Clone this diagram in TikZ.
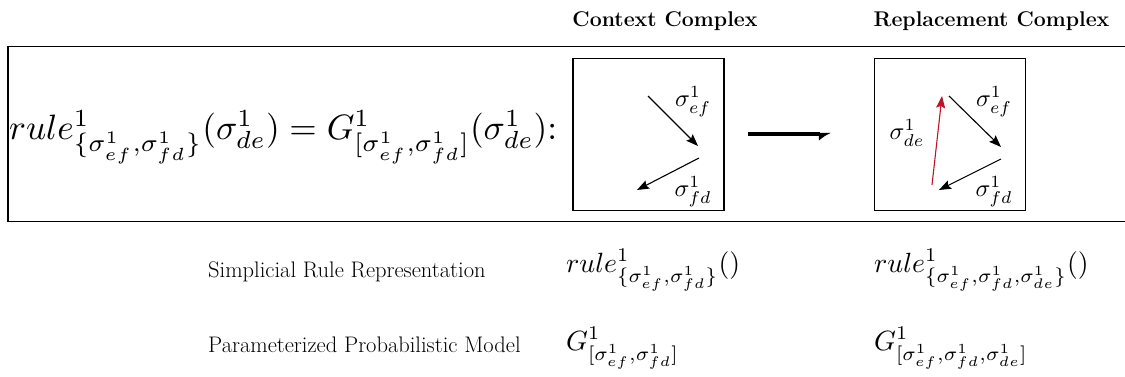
\documentclass[tikz,border=0pt]{standalone}
\usepackage{fontspec}
\usepackage{graphicx}
\usepackage{amsmath}
\usetikzlibrary{arrows.meta}
\definecolor{redarrow}{RGB}{190,20,40}
\newcommand{\mth}[2]{\scalebox{#1}{$#2$}}
\begin{document}
\begin{tikzpicture}[x=1pt,y=-1pt,
  heading/.style={font=\fontsize{21.3}{25}\selectfont\bfseries, anchor=base, inner sep=0},
  caption/.style={font=\fontsize{22.5}{26}\selectfont, anchor=base west, inner sep=0},
  formula/.style={anchor=base west, inner sep=0},
  complexbox/.style={draw, line width=1.1pt, minimum width=151pt, minimum height=152pt, inner sep=0},
  simplex/.style={-{Stealth[length=12pt,width=9pt,inset=2pt]}, line width=1.1pt},
  lbl/.style={inner sep=0}
]
\useasboundingbox (0,0) rectangle (1125,377);
\begin{scope}
\clip (0,0) rectangle (1125,377);
\draw[line width=1.2pt] (1140,46.5) -- (8,46.5) -- (8,221.5) -- (1140,221.5);
\end{scope}

\node[heading] (hctx) at (665,27) {Context Complex};
\node[heading] (hrep) at (991.5,27) {Replacement Complex};

\node[anchor=west, inner sep=0] (rule) at (9,137)
  {\resizebox{548pt}{!}{$rule^1_{\{\sigma^1_{ef},\sigma^1_{fd}\}}(\sigma^1_{de}) = G^1_{[\sigma^1_{ef},\sigma^1_{fd}]}(\sigma^1_{de})\mathpunct{:}$}};

\node[complexbox] (ctx) at (648.5,134.5) {};
\node[complexbox] (rep) at (950,134.5) {};

\coordinate (c1) at (648,96);
\coordinate (c2) at (698,146);
\coordinate (c3) at (699,158);
\coordinate (c4) at (637,190);
\draw[simplex] (c1) -- (c2);
\draw[simplex] (c3) -- (c4);
\node[lbl] (cef) at (693,102) {\mth{2.45}{\sigma^1_{ef}}};
\node[lbl] (cfd) at (693,192) {\mth{2.45}{\sigma^1_{fd}}};

\coordinate (r1) at (949,96);
\coordinate (r2) at (1001,147);
\coordinate (r3) at (1001,159);
\coordinate (r4) at (939,190);
\coordinate (r5) at (932,185);
\coordinate (r6) at (942,96);
\draw[simplex] (r1) -- (r2);
\draw[simplex] (r3) -- (r4);
\draw[simplex, redarrow] (r5) -- (r6);
\node[lbl] (ref) at (994,102) {\mth{2.45}{\sigma^1_{ef}}};
\node[lbl] (rfd) at (994,192) {\mth{2.45}{\sigma^1_{fd}}};
\node[lbl] (rde) at (907,133) {\mth{2.45}{\sigma^1_{de}}};

\coordinate (a1) at (748,134);
\coordinate (a2) at (831,134);
\draw[line width=3.3pt, -{Latex[harpoon,swap,length=10pt,width=14pt]}] (a1) -- (a2);

\node[caption] (csr) at (208,277) {Simplicial Rule Representation};
\node[caption] (cpm) at (208,352) {Parameterized Probabilistic Model};
\node[formula] (f1) at (566,272) {\mth{2.78}{rule^1_{\{\sigma^1_{ef},\sigma^1_{fd}\}}()}};
\node[formula] (f2) at (874,272) {\mth{2.78}{rule^1_{\{\sigma^1_{ef},\sigma^1_{fd},\sigma^1_{de}\}}()}};
\node[formula] (f3) at (566,350) {\mth{2.78}{G^1_{[\sigma^1_{ef},\sigma^1_{fd}]}}};
\node[formula] (f4) at (874,350) {\mth{2.78}{G^1_{[\sigma^1_{ef},\sigma^1_{fd},\sigma^1_{de}]}}};
\end{tikzpicture}
\end{document}
